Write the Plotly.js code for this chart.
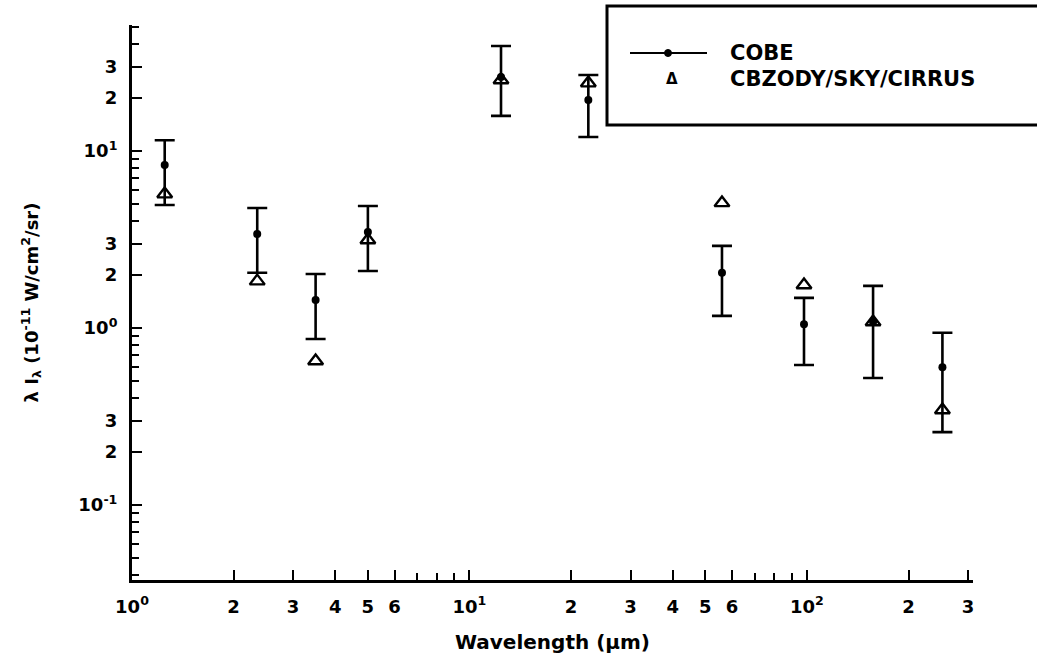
<!DOCTYPE html>
<html>
<head>
<meta charset="utf-8">
<script src="https://cdn.plot.ly/plotly-3.0.1.min.js"></script>
<style>
  html, body { margin: 0; padding: 0; background: #fff; }
  #chart { width: 1037px; height: 671px; }
</style>
</head>
<body>
<div id="chart"></div>
<script>
// ---- data ----
const wavelength = [1.25, 2.35, 3.5, 5.0, 12.4, 22.5, 56, 98, 157, 252];
const cobe       = [8.34, 3.40, 1.44, 3.49, 26.2, 19.4, 2.05, 1.05, 1.08, 0.60];
const cobeUpper  = [11.5, 4.76, 2.02, 4.89, 39.2, 26.9, 2.91, 1.48, 1.73, 0.94];
const cobeLower  = [4.95, 2.05, 0.867, 2.10, 15.8, 12.0, 1.17, 0.618, 0.522, 0.258];
const model      = [5.71, 1.84, 0.651, 3.14, 25.2, 24.2, 5.09, 1.75, 1.08, 0.344];

const seriesNames = ['COBE', 'CBZODY/SKY/CIRRUS'];

const xTickVals  = [1, 2, 3, 4, 5, 6, 10, 20, 30, 40, 50, 60, 100, 200, 300];
const xTickText  = ['10<sup>0</sup>', '2', '3', '4', '5', '6', '10<sup>1</sup>', '2', '3', '4', '5', '6', '10<sup>2</sup>', '2', '3'];
const xMinorVals = [7, 8, 9, 70, 80, 90];
const yTickVals  = [0.1, 0.2, 0.3, 1, 2, 3, 10, 20, 30];
const yTickText  = ['10<sup>-1</sup>', '2', '3', '10<sup>0</sup>', '2', '3', '10<sup>1</sup>', '2', '3'];
const yMinorVals = [0.04, 0.05, 0.06, 0.07, 0.08, 0.09, 0.4, 0.5, 0.6, 0.7, 0.8, 0.9, 4, 5, 6, 7, 8, 9, 40, 50];

// ---- layout geometry ----
const W = 1037, H = 671;
const L = 132, R = 973, T = 25, B = 580;
const px = x => (x - L) / (R - L);
const py = y => (B - y) / (B - T);

const FONT = 'DejaVu Sans, Liberation Sans, Arial, sans-serif';

const errPlus  = cobeUpper.map((u, i) => u - cobe[i]);
const errMinus = cobe.map((v, i) => v - cobeLower[i]);

const traces = [
  {
    x: wavelength, y: cobe, name: seriesNames[0], type: 'scatter', mode: 'markers',
    marker: { symbol: 'circle', size: 8, color: '#000' },
    error_y: { type: 'data', symmetric: false, array: errPlus, arrayminus: errMinus,
               color: '#000', thickness: 2.6, width: 10 },
    showlegend: false
  },
  {
    x: wavelength, y: model, name: seriesNames[1], type: 'scatter', mode: 'markers',
    marker: { symbol: 'triangle-up-open', size: 13, color: '#000', line: { width: 2.4, color: '#000' } },
    showlegend: false
  }
];

const axisCommon = {
  type: 'log', showgrid: false, zeroline: false,
  showline: true, linecolor: '#000', linewidth: 3, mirror: false,
  ticks: 'inside', ticklen: 10, tickwidth: 2, tickcolor: '#000',
  tickmode: 'array',
  tickfont: { family: FONT, size: 18, color: '#000', weight: 'bold' },
  ticklabelstandoff: 8
};

const layout = {
  width: W, height: H,
  margin: { l: L, r: W - R, t: T, b: H - B, pad: 0 },
  paper_bgcolor: '#fff', plot_bgcolor: '#fff',
  showlegend: false,
  font: { family: FONT, color: '#000', size: 18 },
  xaxis: Object.assign({}, axisCommon, {
    range: [0, 2.492],
    tickvals: xTickVals, ticktext: xTickText,
    minor: { tickmode: 'array', tickvals: xMinorVals, ticks: 'inside', ticklen: 7, tickwidth: 2, tickcolor: '#000' },
    title: { text: 'Wavelength (µm)', font: { family: FONT, size: 20, color: '#000', weight: 'bold' }, standoff: 20 }
  }),
  yaxis: Object.assign({}, axisCommon, {
    range: [-1.424, 1.712],
    tickvals: yTickVals, ticktext: yTickText,
    minor: { tickmode: 'array', tickvals: yMinorVals, ticks: 'inside', ticklen: 7, tickwidth: 2, tickcolor: '#000' },
    title: { text: 'λ I<sub>λ</sub> (10<sup>-11</sup> W/cm<sup>2</sup>/sr)', font: { family: FONT, size: 18, color: '#000', weight: 'bold' }, standoff: 36 }
  }),
  shapes: [
    { type: 'rect', xref: 'paper', yref: 'paper', x0: px(607), x1: px(1120), y0: py(125), y1: py(6),
      line: { color: '#000', width: 3 }, fillcolor: '#fff', layer: 'above' },
    { type: 'line', xref: 'paper', yref: 'paper', x0: px(630), x1: px(707), y0: py(53), y1: py(53),
      line: { color: '#000', width: 2 } },
    { type: 'circle', xref: 'paper', yref: 'paper', x0: px(664.5), x1: px(671.5), y0: py(56.5), y1: py(49.5),
      line: { color: '#000', width: 1 }, fillcolor: '#000' }
  ],
  annotations: [
    { xref: 'paper', yref: 'paper', x: px(728), y: py(53), xanchor: 'left', yanchor: 'middle', showarrow: false,
      text: seriesNames[0], font: { family: FONT, size: 21, color: '#000', weight: 'bold' } },
    { xref: 'paper', yref: 'paper', x: px(728), y: py(79), xanchor: 'left', yanchor: 'middle', showarrow: false,
      text: seriesNames[1], font: { family: FONT, size: 21, color: '#000', weight: 'bold' } },
    { xref: 'paper', yref: 'paper', x: px(672), y: py(79), xanchor: 'center', yanchor: 'middle', showarrow: false,
      text: 'Δ', font: { family: FONT, size: 15, color: '#000', weight: 'bold' } }
  ]
};

Plotly.newPlot('chart', traces, layout, { staticPlot: true, displayModeBar: false });
</script>
</body>
</html>
